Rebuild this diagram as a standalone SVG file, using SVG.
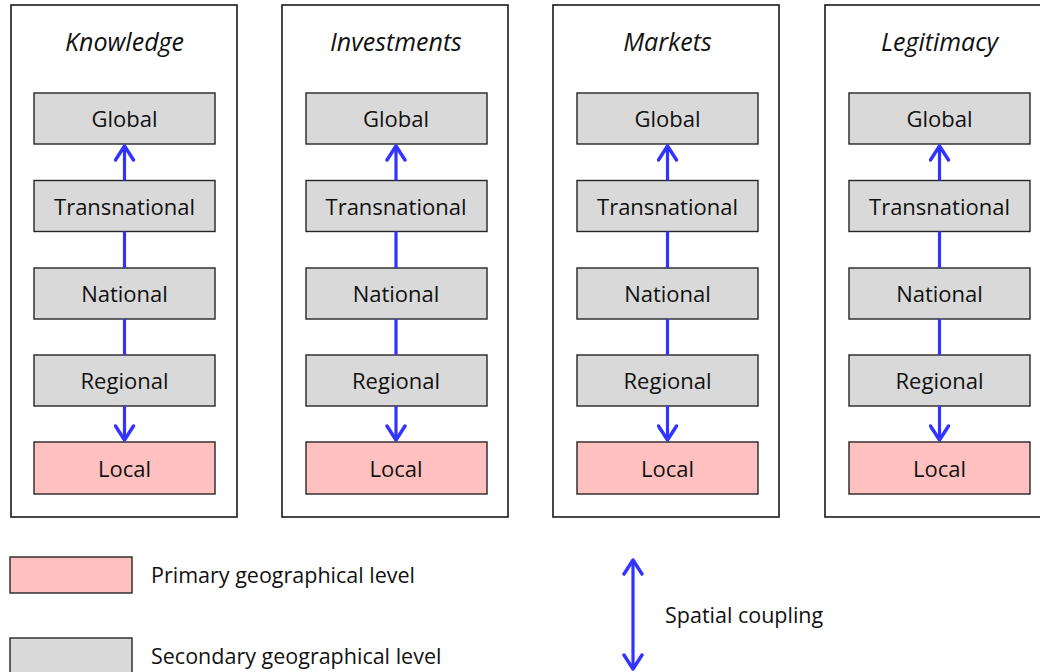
<svg xmlns="http://www.w3.org/2000/svg" width="1040" height="672" viewBox="0 0 1040 672">
<style>
.panel{fill:#fff;stroke:#1a1a1a;stroke-width:1.6}
.sec{fill:#d9d9d9;stroke:#262626;stroke-width:1.4}
.pri{fill:#ffc0c0;stroke:#262626;stroke-width:1.4}
.lbl{font-family:"Open Sans","Noto Sans",sans-serif;font-size:22px;fill:#111;text-anchor:middle}
.ttl{font-family:"Open Sans","Noto Sans",sans-serif;font-size:25px;font-style:italic;fill:#111;text-anchor:middle}
.leg{font-family:"Open Sans","Noto Sans",sans-serif;font-size:21.5px;fill:#111}
.cn{stroke:#3333ff;stroke-width:3.2;fill:none}
</style>
<defs>
<marker id="ah" viewBox="0 0 20 22" refX="17" refY="11" markerWidth="20" markerHeight="22" markerUnits="userSpaceOnUse" orient="auto-start-reverse">
<path d="M3,2 L17,11 L3,20" fill="none" stroke="#3333ff" stroke-width="3.4" stroke-linecap="round" stroke-linejoin="round"/>
</marker>
</defs>
<g id="panel-knowledge">
<rect class="panel" x="11" y="5" width="226" height="512"/>
<text class="ttl" x="124.5" y="51">Knowledge</text>
<g id="k-global"><rect class="sec" x="34" y="93" width="181" height="51"/><text class="lbl" x="124.5" y="127">Global</text></g>
<g id="k-trans"><rect class="sec" x="34" y="180.5" width="181" height="51"/><text class="lbl" x="124.5" y="214.5">Transnational</text></g>
<g id="k-nat"><rect class="sec" x="34" y="268" width="181" height="51"/><text class="lbl" x="124.5" y="302">National</text></g>
<g id="k-reg"><rect class="sec" x="34" y="355" width="181" height="51"/><text class="lbl" x="124.5" y="389">Regional</text></g>
<g id="k-loc"><rect class="pri" x="34" y="442" width="181" height="52"/><text class="lbl" x="124.5" y="476.5">Local</text></g>
</g>
<g id="panel-investments">
<rect class="panel" x="282" y="5" width="226" height="512"/>
<text class="ttl" x="396" y="51">Investments</text>
<g id="i-global"><rect class="sec" x="306" y="93" width="181" height="51"/><text class="lbl" x="396" y="127">Global</text></g>
<g id="i-trans"><rect class="sec" x="306" y="180.5" width="181" height="51"/><text class="lbl" x="396" y="214.5">Transnational</text></g>
<g id="i-nat"><rect class="sec" x="306" y="268" width="181" height="51"/><text class="lbl" x="396" y="302">National</text></g>
<g id="i-reg"><rect class="sec" x="306" y="355" width="181" height="51"/><text class="lbl" x="396" y="389">Regional</text></g>
<g id="i-loc"><rect class="pri" x="306" y="442" width="181" height="52"/><text class="lbl" x="396" y="476.5">Local</text></g>
</g>
<g id="panel-markets">
<rect class="panel" x="553" y="5" width="226" height="512"/>
<text class="ttl" x="667.5" y="51">Markets</text>
<g id="m-global"><rect class="sec" x="577" y="93" width="181" height="51"/><text class="lbl" x="667.5" y="127">Global</text></g>
<g id="m-trans"><rect class="sec" x="577" y="180.5" width="181" height="51"/><text class="lbl" x="667.5" y="214.5">Transnational</text></g>
<g id="m-nat"><rect class="sec" x="577" y="268" width="181" height="51"/><text class="lbl" x="667.5" y="302">National</text></g>
<g id="m-reg"><rect class="sec" x="577" y="355" width="181" height="51"/><text class="lbl" x="667.5" y="389">Regional</text></g>
<g id="m-loc"><rect class="pri" x="577" y="442" width="181" height="52"/><text class="lbl" x="667.5" y="476.5">Local</text></g>
</g>
<g id="panel-legitimacy">
<rect class="panel" x="825" y="5" width="226" height="512"/>
<text class="ttl" x="939.5" y="51">Legitimacy</text>
<g id="l-global"><rect class="sec" x="849" y="93" width="181" height="51"/><text class="lbl" x="939.5" y="127">Global</text></g>
<g id="l-trans"><rect class="sec" x="849" y="180.5" width="181" height="51"/><text class="lbl" x="939.5" y="214.5">Transnational</text></g>
<g id="l-nat"><rect class="sec" x="849" y="268" width="181" height="51"/><text class="lbl" x="939.5" y="302">National</text></g>
<g id="l-reg"><rect class="sec" x="849" y="355" width="181" height="51"/><text class="lbl" x="939.5" y="389">Regional</text></g>
<g id="l-loc"><rect class="pri" x="849" y="442" width="181" height="52"/><text class="lbl" x="939.5" y="476.5">Local</text></g>
</g>
<g id="connectors">
<path class="cn" d="M124.5,180.5 V146" marker-end="url(#ah)"/>
<path class="cn" d="M124.5,231.5 V268 M124.5,319 V355"/>
<path class="cn" d="M124.5,406 V440" marker-end="url(#ah)"/>
<path class="cn" d="M396,180.5 V146" marker-end="url(#ah)"/>
<path class="cn" d="M396,231.5 V268 M396,319 V355"/>
<path class="cn" d="M396,406 V440" marker-end="url(#ah)"/>
<path class="cn" d="M667.5,180.5 V146" marker-end="url(#ah)"/>
<path class="cn" d="M667.5,231.5 V268 M667.5,319 V355"/>
<path class="cn" d="M667.5,406 V440" marker-end="url(#ah)"/>
<path class="cn" d="M939.5,180.5 V146" marker-end="url(#ah)"/>
<path class="cn" d="M939.5,231.5 V268 M939.5,319 V355"/>
<path class="cn" d="M939.5,406 V440" marker-end="url(#ah)"/>
</g>
<g id="legend">
<g id="legend-primary"><rect class="pri" x="10" y="557" width="122" height="36"/><text class="leg" x="151" y="583">Primary geographical level</text></g>
<g id="legend-secondary"><rect class="sec" x="10" y="638" width="122" height="40"/><text class="leg" x="151" y="664">Secondary geographical level</text></g>
<g id="legend-coupling"><path class="cn" d="M633,669 V560" marker-start="url(#ah)" marker-end="url(#ah)"/><text class="leg" x="665" y="623">Spatial coupling</text></g>
</g>
</svg>
